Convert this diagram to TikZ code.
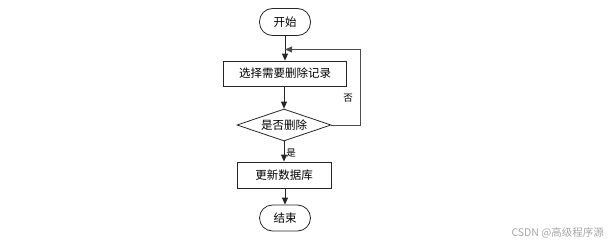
\documentclass[tikz,border=0pt]{standalone}
\usepackage{fontspec}
\setmainfont{Noto Sans CJK SC}
\usetikzlibrary{shapes.geometric,arrows.meta}
\begin{document}
\begin{tikzpicture}[x=1pt,y=-1pt,
  every node/.style={font=\fontsize{11.5}{13}\selectfont, inner sep=0pt},
  term/.style={draw=black!85, line width=0.8pt, rounded corners=13pt, minimum width=51pt, minimum height=27pt},
  proc/.style={draw=black!85, line width=0.8pt, minimum height=25pt},
  dec/.style={draw=black!85, line width=0.8pt, diamond, aspect=2.9, minimum width=94pt, minimum height=32pt},
  arr/.style={-{Triangle[length=7pt,width=6pt]}, line width=0.8pt, draw=black!85},
  lab/.style={font=\fontsize{9.5}{10}\selectfont}]
\useasboundingbox (0,0) rectangle (609,246);
\node[term] (start) at (285,22) {开始};
\node[proc, minimum width=123pt] (sel) at (285,73.5) {选择需要删除记录};
\node[dec] (q) at (284,125) {是否删除};
\node[proc, minimum width=94pt, minimum height=26pt] (upd) at (284,175) {更新数据库};
\node[term, minimum height=26pt] (end) at (285,218) {结束};
\coordinate (c1) at (360,125);
\coordinate (c2) at (360,49.5);
\coordinate (c3) at (285,49.5);
\draw[arr] (start) -- (sel);
\draw[arr] (sel.south -| q.north) -- (q.north);
\draw[arr] (q.south) -- (upd.north);
\draw[arr] (upd.south -| end.north) -- (end.north);
\draw[line width=0.8pt, draw=black!70] (q.east) -- (c1) -- (c2) -- (c3);
\draw[line width=0.8pt, draw=black!70, -{Triangle[length=7pt,width=6pt]}] (c2) -- (c3);
\node[lab] (no) at (348,98) {否};
\node[lab] (yes) at (291,153) {是};
\node[font=\fontsize{10.5}{12}\selectfont, text=black!35, anchor=east] (wm) at (604,233) {CSDN @高级程序源};
\end{tikzpicture}
\end{document}
